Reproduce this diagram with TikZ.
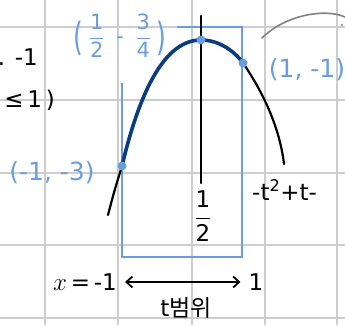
\documentclass[tikz,border=0pt]{standalone}
\usepackage{amsmath}
\usepackage{graphicx}
\usepackage{fontspec}
\setmainfont{DejaVu Sans}
\newfontfamily\krfont{Noto Sans CJK KR}
\usetikzlibrary{arrows.meta,positioning,calc}
\definecolor{gridgray}{RGB}{205,205,205}
\definecolor{lblue}{RGB}{104,158,222}
\definecolor{dblue}{RGB}{12,60,125}
\definecolor{pengray}{RGB}{130,130,130}
\newcommand{\bigpar}[1]{\vcenter{\hbox{\fontsize{25}{25}\selectfont\scalebox{1}[1.55]{#1}}}}
\tikzset{
  ink/.style={line width=2.2pt, line cap=round},
  bluelbl/.style={text=lblue, inner sep=0pt, font=\fontsize{25}{27}\selectfont},
  blklbl/.style={text=black, inner sep=0pt, font=\fontsize{23}{25}\selectfont},
  dot/.style={circle, fill=lblue, inner sep=0pt, minimum size=9pt},
}

\begin{document}
\begin{tikzpicture}[x=1pt, y=-1pt]
  \useasboundingbox (0,0) rectangle (345,325);
  % Grid paper
  \fill[white] (0,0) rectangle (345,325);
  \foreach \gx in {45,118,192,265,337}
    \draw[gridgray, line width=1.3pt] (\gx,0) -- (\gx,325);
  \foreach \gy in {27,100,173,245,318}
    \draw[gridgray, line width=1.3pt] (0,\gy) -- (345,\gy);

  % Range box
  \coordinate (boxa) at (122,83);
  \coordinate (boxb) at (122,257);
  \coordinate (boxc) at (242,257);
  \coordinate (boxd) at (242,27);
  \coordinate (boxe) at (177,27);
  \draw[lblue, line width=2.2pt] (boxa) -- (boxb) -- (boxc) -- (boxd) -- (boxe);

  % Axis of symmetry
  \coordinate (axtop) at (201,16);
  \coordinate (axbot) at (201,183);
  \draw[ink] (axtop) -- (axbot);

  % Parabola
  \coordinate (lend) at (108,215);
  \coordinate (pa) at (122,166);
  \coordinate (pv) at (201,40);
  \coordinate (pb) at (243,63);
  \coordinate (rend) at (284,164);
  \draw[ink] (lend) .. controls (114,192) .. (pa);
  \draw[ink] (pb) .. controls (265,95) and (280,130) .. (rend);
  \draw[dblue, line width=3.6pt, line cap=round] (pa) .. controls (140,90) and (165,40) .. (pv)
    .. controls (220,40) and (235,52) .. (pb);
  \node[dot] (da) at (pa) {};
  \node[dot] (dv) at (pv) {};
  \node[dot] (db) at (pb) {};

  % Point labels
  \node[bluelbl, font=\fontsize{21}{23}\selectfont] (lv) at (120,36)
    {$\bigpar{(}\;\dfrac{\text{1}}{\text{2}}\;\;\text{-}\;\;\dfrac{\text{3}}{\text{4}}\;\bigpar{)}$};
  \node[bluelbl] (lb) at (307,70) {(1, -1)};
  \node[bluelbl] (la) at (52,173) {(-1, -3)};
  \node[blklbl] (half) at (203,216) {$\dfrac{\text{1}}{\text{2}}$};
  \node[blklbl, anchor=west] (fn) at (252,190) {-t\textsuperscript{2}+t-};

  % t range
  \node[blklbl] (xm) at (85,282) {$x$\,=\,-1};
  \node[blklbl] (one) at (256,282) {1};
  \draw[{Straight Barb[length=6pt,width=11pt]}-{Straight Barb[length=6pt,width=11pt]}, line width=1.8pt]
    ([xshift=8pt]xm.east) -- ([xshift=-8pt]one.west);
  \node[blklbl] (rng) at (186,308) {t{\krfont 범위}};

  % Cut-off text on the left
  \node[blklbl, anchor=east] (c1) at (38,57) {. -1};
  \node[blklbl, anchor=east] (c2) at (55,100) {≤\,1\,)};

  % Gray stroke at top right
  \draw[pengray, line width=1.6pt, line cap=round] (262,38) .. controls (285,15) and (325,8) .. (345,17);
  \fill[pengray] (342,25) circle (1.2);
\end{tikzpicture}
\end{document}
